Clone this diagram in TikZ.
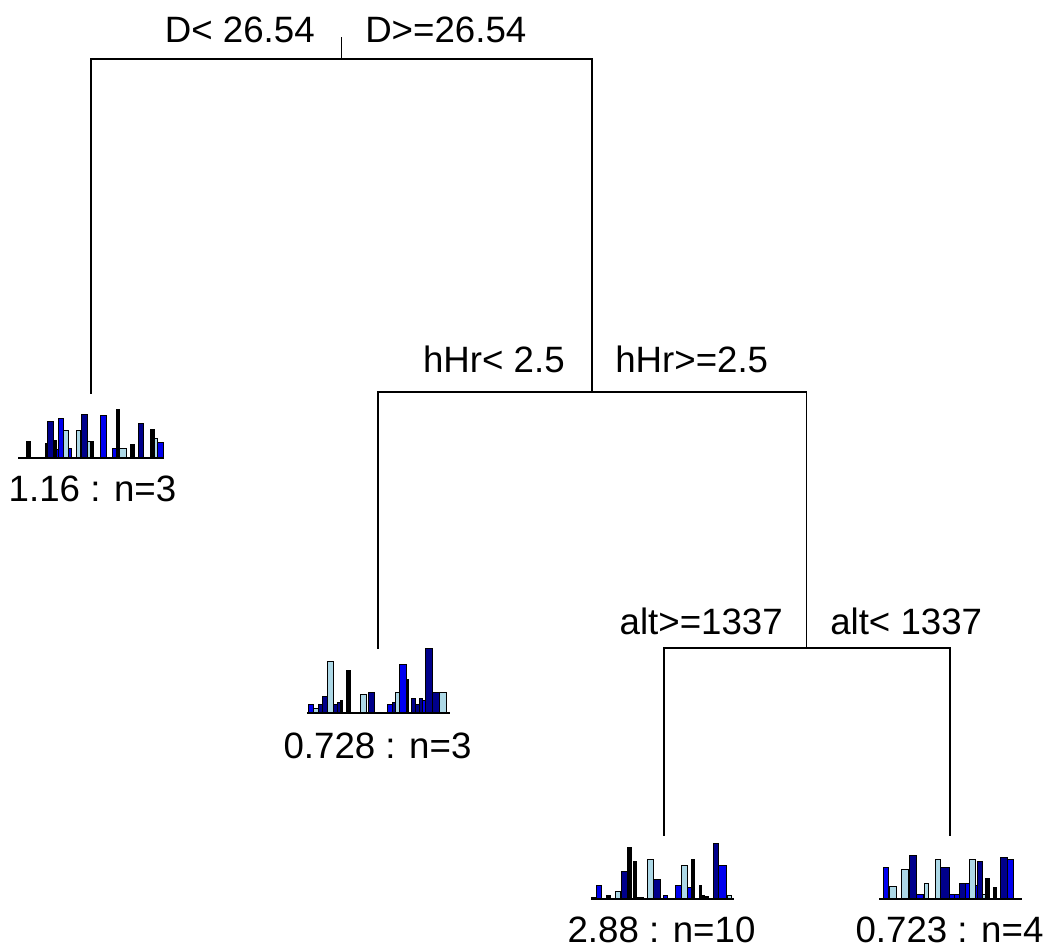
\documentclass[tikz,border=0pt]{standalone}
\usepackage{fontspec}
\setmainfont{Liberation Sans}
\definecolor{cK}{HTML}{000000}
\definecolor{cN}{HTML}{00008B}
\definecolor{cB}{HTML}{0000F0}
\definecolor{cL}{HTML}{ADD8E6}
\tikzset{
  link/.style={line width=0.9pt, line cap=rect},
  lab/.style={inner sep=0pt, font=\fontsize{27.5pt}{33pt}\selectfont},
  bar/.style={draw=black, line width=0.55pt},
  axisline/.style={line width=1.1pt}
}
\begin{document}
\begin{tikzpicture}[x=0.75pt,y=-0.75pt]
\useasboundingbox (0,0) rectangle (1047,952);
% tree coordinates
\coordinate (rt) at (341.7,38);
\coordinate (r) at (341.7,59);
\coordinate (a) at (91,393);
\coordinate (b) at (592,392);
\coordinate (c) at (378,648);
\coordinate (d) at (806.7,648);
\coordinate (e) at (664,835);
\coordinate (f) at (950,835);
\draw[link] (rt) -- (r);
\draw[link] (a) |- (r) -| (b);
\draw[link] (c) |- (b) -| (d);
\draw[link] (e) |- (d) -| (f);
% split labels
\node[lab, anchor=base east] (s1l) at (315,43) {D< 26.54};
\node[lab, anchor=base west] (s1r) at (365,43) {D>=26.54};
\node[lab, anchor=base east] (s2l) at (565,373) {hHr< 2.5};
\node[lab, anchor=base west] (s2r) at (615,373) {hHr>=2.5};
\node[lab, anchor=base east] (s3l) at (783,634) {alt>=1337};
\node[lab, anchor=base west] (s3r) at (830,634) {alt< 1337};
% leaf 1
\foreach \p/\q/\h/\c in {26.7/30/16.7/cK, 45/47.3/15/cK, 47.3/53.3/36.7/cN, 53.3/56/18/cK, 56/58.7/9/cB, 58.7/63.3/40/cB, 63.3/68.3/28/cL, 68.3/71.7/10/cB, 76/80/28/cL, 81/87.3/44/cN, 87.3/90.5/16.7/cL, 90.5/93.3/16.7/cK, 100/106/42.7/cB, 112.7/116.7/10/cB, 116.7/119.3/49/cK, 119.3/126/10/cL, 130/134/13.3/cK, 138.3/143.3/35/cN, 150/154/29/cK, 154/157.3/20/cL, 157.3/163.3/15.7/cB}
  {\draw[bar, fill=\c] (\p,458) rectangle (\q,{458-\h});}
\draw[axisline] (18,458) -- (164,458);
\node[lab, anchor=base] (l1) at (92.5,502) {1.16 : n=3};
% leaf 2
\foreach \p/\q/\h/\c in {308.3/313.3/8.3/cB, 313.3/318.3/4.3/cL, 318.3/322.7/8.3/cN, 322.7/327.3/16.7/cN, 327.3/333.3/52/cL, 333.3/337.3/8.3/cN, 337.3/340/11/cN, 340/342.7/12.7/cK, 346.7/350.7/42.7/cK, 360.7/366/18.7/cL, 368.3/374/20.3/cN, 387.3/392.7/8.3/cB, 392.7/395/11/cN, 395/399.3/20.3/cL, 399.3/406/48.3/cB, 406/408.3/34/cK, 411/415/14.3/cN, 415/419/8.3/cN, 419/422/14.3/cN, 422/425/12.7/cB, 425/432.7/65/cN, 432.7/439.3/20.3/cN, 439.3/446/20.3/cL}
  {\draw[bar, fill=\c] (\p,713) rectangle (\q,{713-\h});}
\draw[axisline] (307,713) -- (450,713);
\node[lab, anchor=base] (l2) at (377.5,758) {0.728 : n=3};
% leaf 3
\foreach \p/\q/\h/\c in {591.7/596.7/2/cK, 596.7/601.7/13.3/cB, 606.7/610.7/3.3/cK, 615.7/620.7/7.3/cL, 621.7/627.7/27.3/cN, 627.7/631/51.7/cK, 633.3/636.7/37.3/cK, 636.7/643/1.5/cK, 647.7/653.3/39.3/cL, 653.3/660/20/cN, 663.3/667.7/3.3/cB, 675/681/13.3/cB, 681/687.7/33.3/cL, 687.7/691/11.7/cB, 691/694.3/39.3/cK, 699/701.7/14/cK, 701.7/704.3/4/cK, 704.3/708/3/cK, 713.3/718.3/56/cN, 718.3/726.7/33.3/cB, 727.7/731.7/3.3/cL}
  {\draw[bar, fill=\c] (\p,899) rectangle (\q,{899-\h});}
\draw[axisline] (591,899) -- (734,899);
\node[lab, anchor=base] (l3) at (661.5,942) {2.88 : n=10};
% leaf 4
\foreach \p/\q/\h/\c in {883.3/888.3/32/cB, 889.5/896/13/cL, 901.7/908.3/29.5/cL, 909.3/916.7/43.7/cN, 916.7/923.3/5/cB, 924/928.3/15.3/cL, 935.5/940.7/39.5/cL, 940.7/949.3/32/cN, 949.3/954/5/cB, 954/959.3/5/cB, 959.3/965/15.3/cN, 965/969.3/15.3/cB, 969.3/975/39.5/cL, 975/977.3/13.3/cB, 977.3/982.7/37.3/cN, 982.7/985/5/cL, 985/989.3/20.3/cK, 993.3/996.7/12/cK, 1000/1007.3/42/cN, 1007.3/1013.3/39.5/cB}
  {\draw[bar, fill=\c] (\p,899) rectangle (\q,{899-\h});}
\draw[axisline] (879,899) -- (1022,899);
\node[lab, anchor=base] (l4) at (949.5,942) {0.723 : n=4};
\end{tikzpicture}
\end{document}
